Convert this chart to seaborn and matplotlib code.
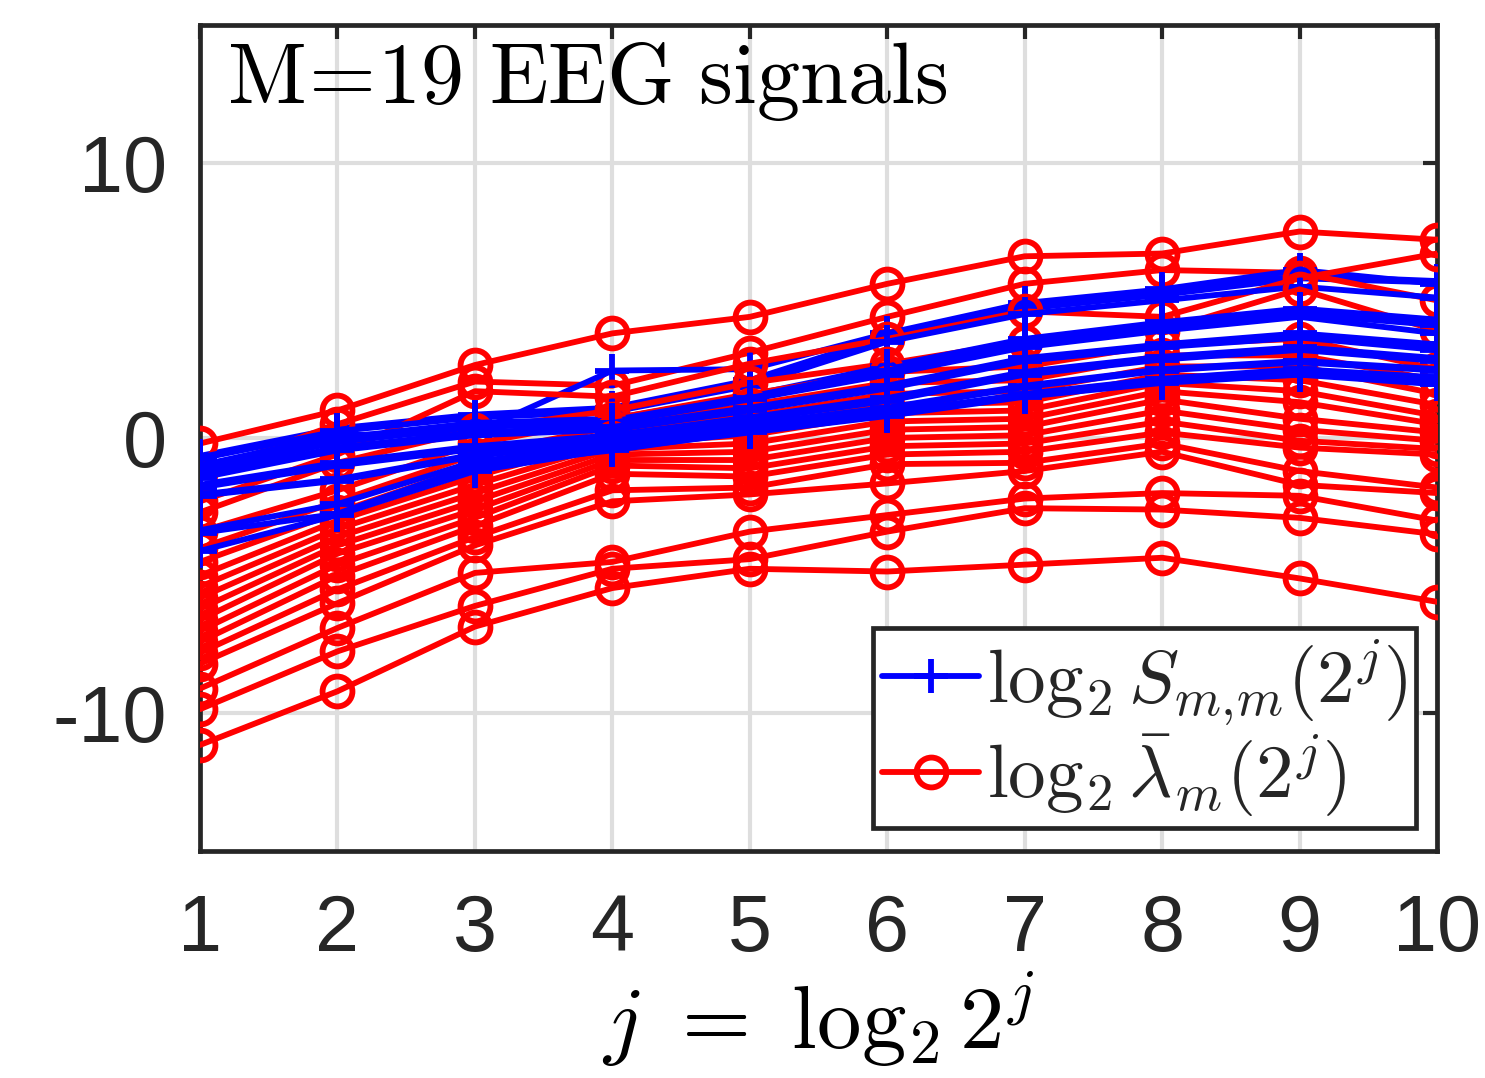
import numpy as np
import pandas as pd
import matplotlib
matplotlib.use("Agg")
import matplotlib.pyplot as plt
from matplotlib.lines import Line2D
import seaborn as sns

# Scales j = 1..10
scales = [1, 2, 3, 4, 5, 6, 7, 8, 9, 10]

# log2 S_{m,m}(2^j), one list per EEG channel
spectra = [
    [-0.65, 0.35, 0.85, 1.1, 2.1, 3.7, 4.8, 5.3, 5.9, 5.7],
    [-0.7, 0.3, 0.8, 1.0, 2.0, 3.6, 4.7, 5.2, 5.8, 5.65],
    [-1.0, 0.1, 0.2, 2.45, 2.5, 3.8, 4.9, 5.4, 6.1, 5.6],
    [-0.75, 0.25, 0.75, 0.95, 1.9, 3.5, 4.5, 5.0, 5.5, 5.1],
    [-1.0, 0.0, 0.55, 0.7, 1.55, 2.6, 3.6, 4.2, 4.7, 4.3],
    [-1.05, -0.05, 0.5, 0.65, 1.5, 2.5, 3.5, 4.1, 4.6, 4.2],
    [-1.1, -0.1, 0.45, 0.6, 1.45, 2.45, 3.4, 4.0, 4.5, 4.1],
    [-1.2, -0.15, 0.4, 0.55, 1.4, 2.3, 3.3, 3.9, 4.4, 3.8],
    [-1.35, -0.35, 0.2, 0.4, 1.1, 1.9, 2.9, 3.4, 3.8, 3.4],
    [-1.4, -0.4, 0.15, 0.35, 1.05, 1.85, 2.85, 3.35, 3.7, 3.3],
    [-1.45, -0.45, 0.1, 0.3, 1.0, 1.8, 2.8, 3.3, 3.65, 3.2],
    [-1.7, -0.9, -0.3, 0.1, 0.75, 1.45, 2.4, 2.95, 3.3, 2.9],
    [-1.75, -0.95, -0.35, 0.05, 0.7, 1.4, 2.35, 2.9, 3.25, 2.85],
    [-1.8, -1.0, -0.4, 0.0, 0.65, 1.35, 2.3, 2.85, 3.2, 2.8],
    [-2.05, -1.5, -0.6, -0.1, 0.5, 1.1, 1.9, 2.5, 2.8, 2.5],
    [-2.1, -1.55, -0.65, -0.15, 0.45, 1.05, 1.85, 2.45, 2.75, 2.45],
    [-3.35, -2.4, -0.85, -0.3, 0.3, 0.9, 1.6, 2.15, 2.5, 2.2],
    [-3.45, -2.75, -1.0, -0.45, 0.25, 0.85, 1.55, 2.05, 2.4, 2.1],
    [-4.1, -2.8, -1.2, -0.4, 0.2, 0.8, 1.5, 2.0, 2.3, 1.95],
]

# log2 of the mean eigenvalues lambda_m(2^j)
eigen = [
    [-0.2, 1.0, 2.65, 3.8, 4.4, 5.6, 6.6, 6.7, 7.5, 7.2],
    [-1.3, 0.5, 2.05, 1.9, 3.1, 4.4, 5.6, 6.1, 6.0, 5.0],
    [-2.3, -0.6, 1.7, 1.5, 2.7, 3.6, 4.6, 4.4, 5.8, 6.7],
    [-2.7, -0.9, 0.3, 1.0, 2.0, 2.7, 3.5, 3.9, 5.4, 3.9],
    [-3.4, -1.9, -0.2, 0.7, 1.6, 2.4, 2.6, 3.4, 3.6, 2.5],
    [-4.0, -2.3, -0.6, 0.4, 1.2, 2.0, 2.1, 3.0, 3.0, 2.1],
    [-4.5, -2.7, -1.0, 0.2, 0.8, 1.6, 1.7, 2.6, 2.6, 1.6],
    [-5.0, -3.0, -1.4, 0.0, 0.4, 1.2, 1.3, 2.3, 2.1, 1.2],
    [-5.4, -3.3, -1.7, -0.2, 0.1, 0.9, 1.0, 2.0, 1.7, 0.8],
    [-5.8, -3.6, -2.0, -0.4, -0.2, 0.6, 0.7, 1.7, 1.3, 0.5],
    [-6.2, -3.9, -2.3, -0.6, -0.5, 0.3, 0.4, 1.4, 0.7, 0.2],
    [-6.6, -4.2, -2.6, -0.8, -0.8, 0.0, 0.1, 1.0, 0.3, -0.1],
    [-7.0, -4.6, -2.9, -1.0, -1.1, -0.3, -0.2, 0.6, -0.1, -0.4],
    [-7.4, -5.0, -3.2, -1.3, -1.4, -0.6, -0.5, 0.2, -0.35, -0.6],
    [-7.8, -5.5, -3.6, -1.9, -1.8, -0.95, -0.9, -0.2, -1.2, -1.8],
    [-8.2, -6.0, -3.9, -2.3, -2.05, -1.65, -1.2, -0.5, -1.7, -2.0],
    [-9.1, -6.9, -4.9, -4.5, -3.4, -2.8, -2.2, -2.0, -2.1, -3.0],
    [-9.85, -7.75, -6.1, -4.75, -4.4, -3.4, -2.55, -2.6, -2.9, -3.5],
    [-11.15, -9.2, -6.85, -5.45, -4.75, -4.85, -4.6, -4.35, -5.1, -5.95],
]

y_ticks = [-10, 0, 10]
y_tick_labels = ["-10", "0", "10"]
title_text = r"$\mathrm{M\!=\!19\ EEG\ signals}$"
legend_labels = [r"$\log_2 S_{m,\!m}(2^j)$", r"$\log_2 \bar{\lambda}_m(2^j)$"]
x_label = r"$j\ =\ \log_2 2^j$"

sns.set_theme(style="white")
plt.rcParams["font.family"] = ["Liberation Sans", "DejaVu Sans"]
plt.rcParams["mathtext.fontset"] = "cm"
plt.rcParams["axes.unicode_minus"] = False

fig = plt.figure(figsize=(14.85, 10.78), dpi=100)
ax = fig.add_axes([0.1347, 0.2106, 0.8330, 0.7662])

blue = "#0000ff"
red = "#ff0000"
lw = 4.2

for s_vals, e_vals in zip(spectra, eigen):
    sns.lineplot(x=scales, y=s_vals, ax=ax, color=blue, linewidth=lw,
                 marker="+", markersize=25, markeredgewidth=lw,
                 markeredgecolor=blue, zorder=3)
    sns.lineplot(x=scales, y=e_vals, ax=ax, color=red, linewidth=lw,
                 marker="o", markersize=21.5, markeredgewidth=lw,
                 markerfacecolor="none", markeredgecolor=red, zorder=3)

ax.set_xlim(1, 10)
ax.set_ylim(-15, 15)
ax.set_xticks(scales)
ax.set_xticklabels([str(s) for s in scales])
ax.set_yticks(y_ticks)
ax.set_yticklabels(y_tick_labels)

ax.grid(True, color="#dedede", lw=3, zorder=0)
ax.set_axisbelow(True)
for sp in ax.spines.values():
    sp.set_color("#262626")
    sp.set_linewidth(3.4)
    sp.set_visible(True)

ax.tick_params(axis="both", direction="in", length=10, width=3,
               color="#262626", labelcolor="#262626", labelsize=57,
               top=True, right=True)
ax.tick_params(axis="x", pad=30)
ax.tick_params(axis="y", pad=24)

ax.set_xlabel(x_label, fontsize=64, color="black", labelpad=2)

ax.text(0.022, 0.906, title_text, transform=ax.transAxes,
        fontsize=62, color="black", va="baseline", ha="left")

handles = [
    Line2D([], [], color=blue, lw=lw, marker="+", markersize=25,
           markeredgewidth=lw),
    Line2D([], [], color=red, lw=lw, marker="o", markersize=21.5,
           markeredgewidth=lw, markerfacecolor="none"),
]
leg = ax.legend(handles, legend_labels, loc="lower right",
                bbox_to_anchor=(0.983, 0.028), borderaxespad=0,
                fontsize=54, fancybox=False, framealpha=1,
                handlelength=1.3, handletextpad=0.1, labelspacing=0.05,
                borderpad=0.12)
leg.get_frame().set_edgecolor("#262626")
leg.get_frame().set_linewidth(3.4)

fig.savefig("out.png", dpi=100)
